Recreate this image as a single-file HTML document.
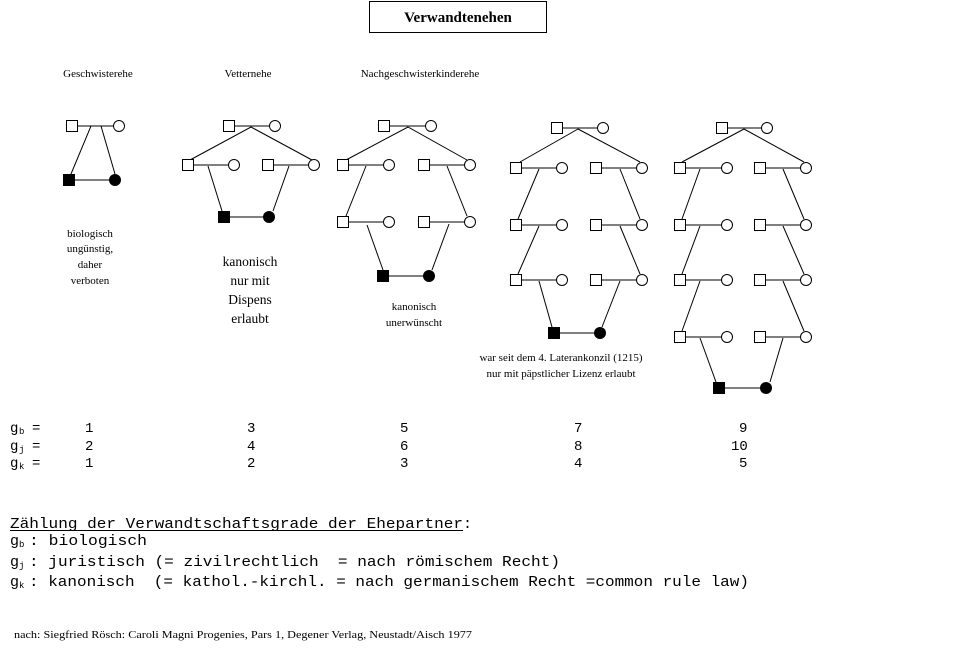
<!DOCTYPE html>
<html><head><meta charset="utf-8"><style>
html,body{margin:0;padding:0;background:#fff;}
svg{display:block;}
.s{font-family:"Liberation Serif",serif;fill:#000;}
.m{font-family:"Liberation Mono",monospace;fill:#000;white-space:pre;}
</style></head><body>
<svg width="980" height="655" viewBox="0 0 980 655" xmlns="http://www.w3.org/2000/svg">
<rect x="369.5" y="1.5" width="177" height="31" fill="none" stroke="#000"/>
<text x="458" y="22" class="s" font-size="15" font-weight="bold" text-anchor="middle">Verwandtenehen</text>

<g class="s" font-size="11" text-anchor="middle">
<text x="98" y="77">Geschwisterehe</text>
<text x="248" y="77">Vetternehe</text>
<text x="420" y="77">Nachgeschwisterkinderehe</text>
<text x="90" y="237">biologisch</text>
<text x="90" y="252">ungünstig,</text>
<text x="90" y="268">daher</text>
<text x="90" y="284">verboten</text>
<text x="414" y="310">kanonisch</text>
<text x="414" y="326">unerwünscht</text>
<text x="561" y="361">war seit dem 4. Laterankonzil (1215)</text>
<text x="561" y="377">nur mit päpstlicher Lizenz erlaubt</text>
</g>
<g class="s" font-size="13.5" text-anchor="middle">
<text x="250" y="266">kanonisch</text>
<text x="250" y="285">nur mit</text>
<text x="250" y="304">Dispens</text>
<text x="250" y="323">erlaubt</text>
</g>

<g stroke="#000" stroke-width="1" fill="none">
<line x1="78" y1="126" x2="113" y2="126"/>
<line x1="91" y1="126" x2="71" y2="174"/><line x1="101" y1="126" x2="115" y2="174"/>
<line x1="75" y1="180" x2="109" y2="180"/>
<line x1="235" y1="126" x2="269" y2="126"/>
<line x1="251" y1="127" x2="190" y2="160"/><line x1="251" y1="127" x2="312" y2="160"/>
<line x1="194" y1="165" x2="228" y2="165"/><line x1="274" y1="165" x2="308" y2="165"/>
<line x1="208" y1="166" x2="222" y2="211"/><line x1="289" y1="166" x2="273" y2="211"/>
<line x1="230" y1="217" x2="263" y2="217"/>
<line x1="390" y1="126" x2="425" y2="126"/>
<line x1="408" y1="127" x2="346" y2="160"/><line x1="408" y1="127" x2="467" y2="160"/>
<line x1="349" y1="165" x2="383" y2="165"/><line x1="430" y1="165" x2="464" y2="165"/>
<line x1="349" y1="222" x2="383" y2="222"/><line x1="430" y1="222" x2="464" y2="222"/>
<line x1="366" y1="166" x2="346" y2="216"/><line x1="447" y1="166" x2="467" y2="216"/>
<line x1="367" y1="225" x2="383" y2="270"/><line x1="449" y1="224" x2="432" y2="270"/>
<line x1="389" y1="276" x2="423" y2="276"/>
<line x1="562" y1="128" x2="597" y2="128"/>
<line x1="578" y1="129" x2="520" y2="162"/><line x1="578" y1="129" x2="640" y2="162"/>
<line x1="522" y1="168" x2="556" y2="168"/><line x1="602" y1="168" x2="636" y2="168"/>
<line x1="522" y1="225" x2="556" y2="225"/><line x1="602" y1="225" x2="636" y2="225"/>
<line x1="522" y1="280" x2="556" y2="280"/><line x1="602" y1="280" x2="636" y2="280"/>
<line x1="539" y1="169" x2="518" y2="219"/><line x1="620" y1="169" x2="640" y2="219"/>
<line x1="539" y1="226" x2="518" y2="274"/><line x1="620" y1="226" x2="640" y2="274"/>
<line x1="539" y1="281" x2="552" y2="327"/><line x1="620" y1="281" x2="602" y2="327"/>
<line x1="560" y1="333" x2="594" y2="333"/>
<line x1="728" y1="128" x2="761" y2="128"/>
<line x1="744" y1="129" x2="682" y2="162"/><line x1="744" y1="129" x2="804" y2="162"/>
<line x1="686" y1="168" x2="721" y2="168"/><line x1="766" y1="168" x2="800" y2="168"/>
<line x1="686" y1="225" x2="721" y2="225"/><line x1="766" y1="225" x2="800" y2="225"/>
<line x1="686" y1="280" x2="721" y2="280"/><line x1="766" y1="280" x2="800" y2="280"/>
<line x1="686" y1="337" x2="721" y2="337"/><line x1="766" y1="337" x2="800" y2="337"/>
<line x1="700" y1="169" x2="682" y2="219"/><line x1="783" y1="169" x2="804" y2="219"/>
<line x1="700" y1="226" x2="682" y2="274"/><line x1="783" y1="226" x2="804" y2="274"/>
<line x1="700" y1="281" x2="682" y2="331"/><line x1="783" y1="281" x2="804" y2="331"/>
<line x1="700" y1="338" x2="716" y2="382"/><line x1="783" y1="338" x2="770" y2="382"/>
<line x1="725" y1="388" x2="760" y2="388"/>
</g>

<g stroke="#000" fill="#fff">
<rect x="66.5" y="120.5" width="11" height="11"/>
<rect x="223.5" y="120.5" width="11" height="11"/>
<rect x="182.5" y="159.5" width="11" height="11"/><rect x="262.5" y="159.5" width="11" height="11"/>
<rect x="378.5" y="120.5" width="11" height="11"/>
<rect x="337.5" y="159.5" width="11" height="11"/><rect x="418.5" y="159.5" width="11" height="11"/>
<rect x="337.5" y="216.5" width="11" height="11"/><rect x="418.5" y="216.5" width="11" height="11"/>
<rect x="551.5" y="122.5" width="11" height="11"/>
<rect x="510.5" y="162.5" width="11" height="11"/><rect x="590.5" y="162.5" width="11" height="11"/>
<rect x="510.5" y="219.5" width="11" height="11"/><rect x="590.5" y="219.5" width="11" height="11"/>
<rect x="510.5" y="274.5" width="11" height="11"/><rect x="590.5" y="274.5" width="11" height="11"/>
<rect x="716.5" y="122.5" width="11" height="11"/>
<rect x="674.5" y="162.5" width="11" height="11"/><rect x="754.5" y="162.5" width="11" height="11"/>
<rect x="674.5" y="219.5" width="11" height="11"/><rect x="754.5" y="219.5" width="11" height="11"/>
<rect x="674.5" y="274.5" width="11" height="11"/><rect x="754.5" y="274.5" width="11" height="11"/>
<rect x="674.5" y="331.5" width="11" height="11"/><rect x="754.5" y="331.5" width="11" height="11"/>
<circle cx="119" cy="126" r="5.5"/>
<circle cx="275" cy="126" r="5.5"/><circle cx="234" cy="165" r="5.5"/><circle cx="314" cy="165" r="5.5"/>
<circle cx="431" cy="126" r="5.5"/><circle cx="389" cy="165" r="5.5"/><circle cx="470" cy="165" r="5.5"/>
<circle cx="389" cy="222" r="5.5"/><circle cx="470" cy="222" r="5.5"/>
<circle cx="603" cy="128" r="5.5"/><circle cx="562" cy="168" r="5.5"/><circle cx="642" cy="168" r="5.5"/>
<circle cx="562" cy="225" r="5.5"/><circle cx="642" cy="225" r="5.5"/>
<circle cx="562" cy="280" r="5.5"/><circle cx="642" cy="280" r="5.5"/>
<circle cx="767" cy="128" r="5.5"/><circle cx="727" cy="168" r="5.5"/><circle cx="806" cy="168" r="5.5"/>
<circle cx="727" cy="225" r="5.5"/><circle cx="806" cy="225" r="5.5"/>
<circle cx="727" cy="280" r="5.5"/><circle cx="806" cy="280" r="5.5"/>
<circle cx="727" cy="337" r="5.5"/><circle cx="806" cy="337" r="5.5"/>
</g>
<g fill="#000">
<rect x="63" y="174" width="12" height="12"/><circle cx="115" cy="180" r="6"/>
<rect x="218" y="211" width="12" height="12"/><circle cx="269" cy="217" r="6"/>
<rect x="377" y="270" width="12" height="12"/><circle cx="429" cy="276" r="6"/>
<rect x="548" y="327" width="12" height="12"/><circle cx="600" cy="333" r="6"/>
<rect x="713" y="382" width="12" height="12"/><circle cx="766" cy="388" r="6"/>
</g>

<g class="m" font-size="14">
<text x="10" y="432">g</text><text x="19" y="434" font-size="9">b</text><text x="32" y="432">=</text>
<text x="10" y="450">g</text><text x="19" y="452" font-size="9">j</text><text x="32" y="450">=</text>
<text x="10" y="467">g</text><text x="19" y="469" font-size="9">k</text><text x="32" y="467">=</text>
<text x="85" y="432">1</text><text x="85" y="450">2</text><text x="85" y="467">1</text>
<text x="247" y="432">3</text><text x="247" y="450">4</text><text x="247" y="467">2</text>
<text x="400" y="432">5</text><text x="400" y="450">6</text><text x="400" y="467">3</text>
<text x="574" y="432">7</text><text x="574" y="450">8</text><text x="574" y="467">4</text>
<text x="739" y="432">9</text><text x="731" y="450">10</text><text x="739" y="467">5</text>
</g>
<g class="m" font-size="15">
<text x="10" y="528" textLength="453" lengthAdjust="spacingAndGlyphs">Zählung der Verwandtschaftsgrade der Ehepartner</text>
<text x="463" y="528">:</text>
<text x="10" y="545">g</text><text x="19" y="547" font-size="9">b</text>
<text x="29" y="545" textLength="118" lengthAdjust="spacingAndGlyphs">: biologisch</text>
<text x="10" y="566">g</text><text x="19" y="568" font-size="9">j</text>
<text x="29" y="566" textLength="531" lengthAdjust="spacingAndGlyphs">: juristisch (= zivilrechtlich &#160;= nach römischem Recht)</text>
<text x="10" y="586">g</text><text x="19" y="588" font-size="9">k</text>
<text x="29" y="586" textLength="720" lengthAdjust="spacingAndGlyphs">: kanonisch &#160;(= kathol.-kirchl. = nach germanischem Recht =common rule law)</text>
</g>
<line x1="10" y1="530.5" x2="463" y2="530.5" stroke="#000"/>
<text x="14" y="638" class="s" font-size="11" textLength="458" lengthAdjust="spacingAndGlyphs">nach: Siegfried Rösch: Caroli Magni Progenies, Pars 1, Degener Verlag, Neustadt/Aisch 1977</text>
</svg>
</body></html>
